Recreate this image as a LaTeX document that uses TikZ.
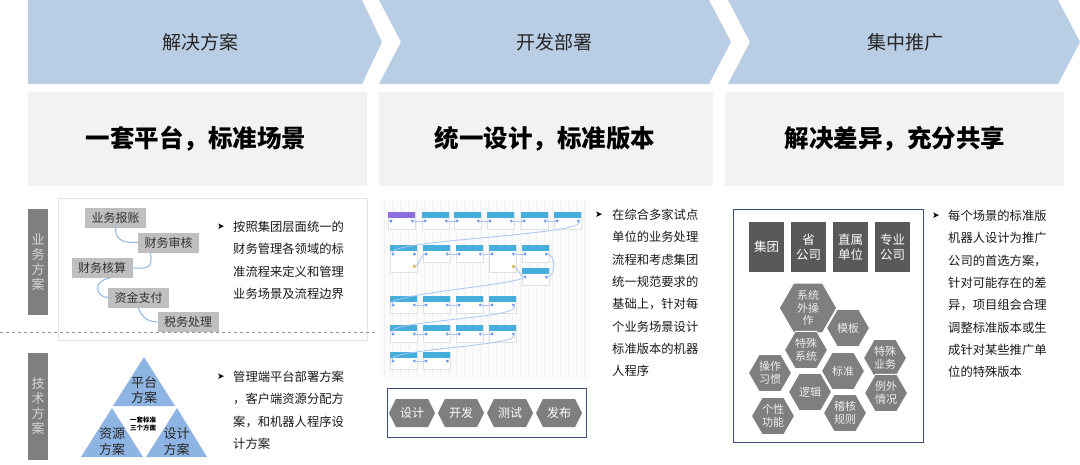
\documentclass[tikz,border=0pt]{standalone}
\usepackage{fontspec}
\setmainfont{Noto Sans CJK SC}
\newfontfamily\symfont{DejaVu Sans}
\usetikzlibrary{shapes.geometric,shapes.symbols,calc}
\definecolor{chev}{HTML}{B9CDE5}
\definecolor{lightbg}{HTML}{F2F2F2}
\definecolor{sidebar}{HTML}{7F7F7F}
\definecolor{sidetext}{HTML}{D6D6D6}
\definecolor{procfill}{HTML}{BFBFBF}
\definecolor{tri}{HTML}{8EB4E3}
\definecolor{curvec}{HTML}{8EB4E3}
\definecolor{hexg}{HTML}{7F7F7F}
\definecolor{darkbox}{HTML}{595959}
\definecolor{navy}{HTML}{3B4E7E}
\definecolor{flowhead}{HTML}{45AEDA}
\definecolor{flowpurple}{HTML}{8B6FE0}
\definecolor{flowline}{HTML}{A9C4F5}
\definecolor{portc}{HTML}{5B8DEF}
\definecolor{portyel}{HTML}{F2B230}
\definecolor{gridc}{HTML}{F1F1F1}
\definecolor{panelb}{HTML}{E3E3E3}
\newcommand\flowbox[5][flowhead]{%
  \node[flownode, minimum height=#5, anchor=north west] (#2) at (#3,#4) {};
  \fill[#1] (#2.north west) rectangle ($(#2.north east)+(0,5.5)$);
  \coordinate (#2-l) at ($(#2.north west)+(3,9)$);
  \coordinate (#2-r) at ($(#2.north east)+(-3,9)$);
  \fill[portc] (#2-l) circle (1.6);
  \fill[portc] (#2-r) circle (1.6);
}
\begin{document}
\begin{tikzpicture}[x=1pt,y=-1pt,
  chevron/.style={fill=chev},
  headtext/.style={font=\fontsize{19}{19}\selectfont, text=black!85},
  titlebox/.style={fill=lightbg},
  titletext/.style={font=\fontsize{24.5}{24.5}\selectfont\bfseries, text=black},
  sidebox/.style={fill=sidebar, minimum width=20, inner sep=0, align=center,
     text=sidetext, font=\fontsize{13}{15}\selectfont},
  procbox/.style={fill=procfill, minimum width=61, minimum height=20, inner sep=0,
     text=black!80, font=\fontsize{12}{12}\selectfont},
  proclink/.style={draw=curvec, line width=1pt},
  body/.style={anchor=north west, inner sep=0, align=left, text=black!90,
     font=\fontsize{12.3}{22.3}\selectfont},
  bullet/.style={inner sep=0, font=\symfont\fontsize{9}{9}\selectfont},
  trishape/.style={fill=tri},
  tritext/.style={inner sep=0, align=center, text=black!85, font=\fontsize{13}{15.5}\selectfont},
  flownode/.style={draw=black!12, fill=white, minimum width=27, inner sep=0},
  flowlink/.style={draw=flowline, line width=0.8pt},
  stephex/.style={signal, signal to=east and west, signal pointer angle=127,
     fill=hexg, minimum width=46, minimum height=28, inner sep=0,
     text=white, font=\fontsize{12}{12}\selectfont},
  frame/.style={draw=navy, line width=1pt},
  orgbox/.style={fill=darkbox, minimum width=35, minimum height=50, inner sep=0,
     align=center, text=white, font=\fontsize{12.5}{15}\selectfont},
  hexnode/.style={regular polygon, regular polygon sides=6, minimum size=43,
     inner sep=0, fill=hexg, draw=white, line width=0.8pt, align=center,
     text=white!93!black, font=\fontsize{11}{12.5}\selectfont}
]
\useasboundingbox (0,0) rectangle (1080,464);

% ---------- chevrons ----------
\fill[chevron] (28,0) -- (362,0) -- (382,42) -- (362,84) -- (28,84) -- cycle;
\fill[chevron] (379,0) -- (709,0) -- (731,42) -- (709,84) -- (379,84) -- (401,42) -- cycle;
\fill[chevron] (728,0) -- (1058,0) -- (1080,42) -- (1058,84) -- (728,84) -- (750,42) -- cycle;
\node[headtext] (h1) at (200,42) {解决方案};
\node[headtext] (h2) at (554,42) {开发部署};
\node[headtext] (h3) at (905,42) {集中推广};

% ---------- title boxes ----------
\fill[titlebox] (28,92) rectangle (367,186);
\fill[titlebox] (379,92) rectangle (713,186);
\fill[titlebox] (725,92) rectangle (1064,186);
\node[titletext] (t1) at (196,139) {一套平台，标准场景};
\node[titletext] (t2) at (545,139) {统一设计，标准版本};
\node[titletext] (t3) at (895,139) {解决差异，充分共享};

% ---------- left section ----------
\draw[panelb, fill=white] (58,198) rectangle (367,340);
\draw[black!40, dashed] (0,332) -- (378,332);
\node[sidebox, minimum height=106] (s1) at (38,262) {业\\务\\方\\案};
\node[sidebox, minimum height=107] (s2) at (38,406.5) {技\\术\\方\\案};

\node[procbox] (p1) at (115.5,218) {业务报账};
\node[procbox] (p2) at (168.5,242.5) {财务审核};
\node[procbox] (p3) at (102,268) {财务核算};
\node[procbox] (p4) at (138.5,297.5) {资金支付};
\node[procbox] (p5) at (188,322) {税务处理};
\draw[proclink] (p1.south) .. controls +(0,14) and +(-12,0) .. (p2.west);
\draw[proclink] ([xshift=-18pt]p2.south) .. controls +(3,18) and +(12,0) .. (p3.east);
\draw[proclink] ([xshift=8pt]p3.south) .. controls +(-18,2) and +(-12,0) .. (p4.west);
\draw[proclink] (p4.south) .. controls +(2,8) and +(-10,0) .. (p5.west);

\node[bullet] (b1) at (221,227) {➤};
\node[body] (x1) at (233,221) {按照集团层面统一的\\财务管理各领域的标\\准流程来定义和管理\\业务场景及流程边界};

\fill[trishape] (144,357) -- (175,406) -- (113,406) -- cycle;
\fill[trishape] (112,408) -- (143,457) -- (81,457) -- cycle;
\fill[trishape] (177,408) -- (207,457) -- (146,457) -- cycle;
\node[tritext] (r1) at (144,390) {平台\\方案};
\node[tritext] (r2) at (112,441.5) {资源\\方案};
\node[tritext] (r3) at (176.5,441.5) {设计\\方案};
\node[inner sep=0, align=center, font=\fontsize{6.5}{7.5}\selectfont\bfseries] (r0) at (143,424) {一套标准\\三个方面};

\node[bullet] (b2) at (221,377) {➤};
\node[body] (x2) at (233,371) {管理端平台部署方案\\，客户端资源分配方\\案，和机器人程序设\\计方案};

% ---------- middle section ----------
\fill[white!98.5!black] (380,200) rectangle (590,378);
\draw[gridc, step=8] (380,200) grid (590,378);

\flowbox[flowpurple]{f1a}{388}{212}{17}
\flowbox{f1b}{422}{212}{17}
\flowbox{f1c}{454}{212}{17}
\flowbox{f1d}{487}{212}{17}
\flowbox{f1e}{521}{212}{17}
\flowbox{f1f}{554}{212}{17}
\flowbox{f2a}{390}{245}{27}
\flowbox{f2b}{423}{245}{17}
\flowbox{f2c}{456}{245}{17}
\flowbox{f2d}{489}{245}{27}
\flowbox{f2e}{522}{245}{17}
\flowbox{f2g}{522}{268}{17}
\flowbox{f3a}{390}{296}{17}
\flowbox{f3b}{423}{296}{17}
\flowbox{f3c}{456}{296}{17}
\flowbox{f3d}{489}{296}{17}
\flowbox{f4a}{390}{325}{17}
\flowbox{f4b}{423}{325}{17}
\flowbox{f4c}{456}{325}{17}
\flowbox{f4d}{489}{325}{17}
\flowbox{f5a}{390}{352}{17}
\flowbox{f5b}{423}{352}{17}
\coordinate (y2a) at ($(f2a.south east)+(-3,-6)$);
\coordinate (y2d) at ($(f2d.south east)+(-3,-6)$);
\fill[portyel] (y2a) circle (1.8);
\fill[portyel] (y2d) circle (1.8);

\draw[flowlink] (f1a-r) -- (f1b-l);
\draw[flowlink] (f1b-r) -- (f1c-l);
\draw[flowlink] (f1c-r) -- (f1d-l);
\draw[flowlink] (f1d-r) -- (f1e-l);
\draw[flowlink] (f1e-r) -- (f1f-l);
\draw[flowlink] (f1f-r) .. controls +(16,14) and +(-16,-14) .. (f2a-l);
\draw[flowlink] (y2a) .. controls +(5,0) and +(-5,0) .. (f2b-l);
\draw[flowlink] (f2b-r) -- (f2c-l);
\draw[flowlink] (f2c-r) -- (f2d-l);
\draw[flowlink] (f2d-r) -- (f2e-l);
\draw[flowlink] (f2e-r) .. controls +(10,0) and +(10,0) .. (f2g-r);
\draw[flowlink] (y2d) .. controls +(6,2) and +(-6,0) .. (f2g-l);
\draw[flowlink] (f2g-l) .. controls +(-8,8) and +(-16,-10) .. (f3a-l);
\draw[flowlink] (f3a-r) -- (f3b-l);
\draw[flowlink] (f3b-r) -- (f3c-l);
\draw[flowlink] (f3c-r) -- (f3d-l);
\draw[flowlink] (f3d-r) .. controls +(16,14) and +(-16,-14) .. (f4a-l);
\draw[flowlink] (f4a-r) -- (f4b-l);
\draw[flowlink] (f4b-r) -- (f4c-l);
\draw[flowlink] (f4c-r) -- (f4d-l);
\draw[flowlink] (f4d-r) .. controls +(16,12) and +(-16,-12) .. (f5a-l);
\draw[flowlink] (f5a-r) -- (f5b-l);

\draw[frame, fill=white] (387,388) rectangle (586,437);
\node[stephex] (d1) at (412,413) {设计};
\node[stephex] (d2) at (461,413) {开发};
\node[stephex] (d3) at (510,413) {测试};
\node[stephex] (d4) at (559,413) {发布};

\node[bullet] (b3) at (599,215) {➤};
\node[body] (x3) at (612,209) {在综合多家试点\\单位的业务处理\\流程和考虑集团\\统一规范要求的\\基础上，针对每\\个业务场景设计\\标准版本的机器\\人程序};

% ---------- right section ----------
\draw[frame, fill=white] (733,209) rectangle (923,442);
\node[orgbox] (o1) at (766.5,247) {集团};
\node[orgbox] (o2) at (808.5,247) {省\\公司};
\node[orgbox] (o3) at (850.5,247) {直属\\单位};
\node[orgbox] (o4) at (892.5,247) {专业\\公司};

\node[hexnode] (g1) at (808,308) {系统\\外操\\作};
\node[hexnode] (g2) at (848,328) {模板};
\node[hexnode] (g3) at (806,350) {特殊\\系统};
\node[hexnode] (g4) at (885,358) {特殊\\业务};
\node[hexnode] (g5) at (770,373) {操作\\习惯};
\node[hexnode] (g6) at (843,371) {标准};
\node[hexnode] (g7) at (810,392) {逻辑};
\node[hexnode] (g8) at (886,393) {例外\\情况};
\node[hexnode] (g9) at (773,416) {个性\\功能};
\node[hexnode] (g10) at (845,413) {稽核\\规则};

\node[bullet] (b4) at (936,216) {➤};
\node[body] (x4) at (948,210) {每个场景的标准版\\机器人设计为推广\\公司的首选方案，\\针对可能存在的差\\异，项目组会合理\\调整标准版本或生\\成针对某些推广单\\位的特殊版本};
\end{tikzpicture}
\end{document}
